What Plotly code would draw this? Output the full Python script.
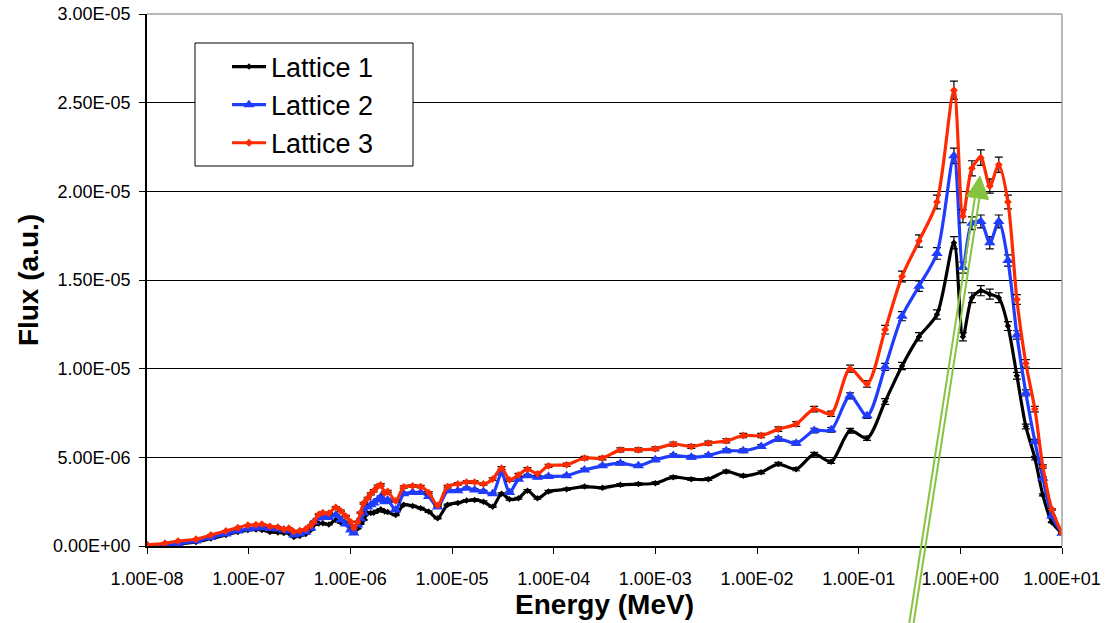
import plotly.graph_objects as go

# ---------------- data ----------------
energy_mev = [
    1.00e-8, 1.50e-8, 2.02e-8, 3.03e-8, 4.25e-8, 5.97e-8, 7.83e-8, 9.82e-8,
    1.18e-7, 1.35e-7, 1.62e-7, 1.94e-7, 2.22e-7, 2.48e-7, 2.78e-7, 3.18e-7,
    3.65e-7, 4.08e-7, 4.37e-7, 4.89e-7, 5.36e-7, 6.14e-7, 7.19e-7, 8.05e-7,
    9.01e-7, 1.01e-6, 1.08e-6, 1.18e-6, 1.26e-6, 1.35e-6, 1.48e-6, 1.59e-6,
    1.70e-6, 1.86e-6, 1.99e-6, 2.18e-6, 2.33e-6, 2.79e-6, 3.35e-6, 4.10e-6,
    4.92e-6, 5.89e-6, 7.22e-6, 9.05e-6, 1.14e-5, 1.39e-5, 1.67e-5, 2.04e-5,
    2.51e-5, 3.07e-5, 3.68e-5, 4.51e-5, 5.53e-5, 6.93e-5, 8.89e-5, 1.34e-4,
    2.01e-4, 3.02e-4, 4.53e-4, 6.81e-4, 1.00e-3, 1.50e-3, 2.26e-3, 3.32e-3,
    4.98e-3, 7.32e-3, 1.10e-2, 1.62e-2, 2.43e-2, 3.65e-2, 5.36e-2, 8.23e-2,
    0.121, 0.182, 0.267, 0.392, 0.589, 0.865, 1.06, 1.30,
    1.59, 1.95, 2.39, 2.94, 3.60, 4.41, 5.41, 6.48,
    7.94, 10.0,
]

# flux values in units of 1e-6 (a.u.)
lattice1 = [
    0.01, 0.06, 0.11, 0.23, 0.42, 0.62, 0.79, 0.90,
    0.93, 0.90, 0.79, 0.76, 0.73, 0.73, 0.51, 0.56,
    0.68, 0.90, 1.19, 1.27, 1.28, 1.21, 1.47, 1.32,
    1.27, 1.07, 0.99, 0.99, 1.24, 1.47, 1.84, 1.86,
    1.88, 1.98, 2.07, 1.94, 1.92, 1.75, 2.32, 2.26,
    2.13, 1.94, 1.56, 2.32, 2.43, 2.56, 2.60, 2.50,
    2.22, 2.94, 2.64, 2.69, 3.12, 2.69, 3.07, 3.20,
    3.35, 3.29, 3.45, 3.49, 3.54, 3.88, 3.77, 3.77,
    4.20, 3.96, 4.16, 4.62, 4.33, 5.18, 4.75, 6.50,
    6.08, 8.15, 10.15, 11.8, 13.05, 17.1, 11.8, 14.0,
    14.4, 14.2, 14.0, 12.4, 9.6, 6.74, 4.95, 2.88,
    1.34, 0.72,
]
lattice2 = [
    0.03, 0.08, 0.14, 0.28, 0.48, 0.68, 0.85, 0.96,
    1.02, 1.05, 0.99, 0.96, 0.90, 0.85, 0.62, 0.68,
    0.79, 1.02, 1.36, 1.58, 1.66, 1.61, 1.75, 1.47,
    1.24, 0.90, 0.73, 1.19, 1.53, 1.86, 2.20, 2.32,
    2.43, 2.60, 2.77, 2.49, 2.60, 2.03, 2.94, 3.01,
    3.01, 2.79, 2.20, 3.11, 3.11, 3.26, 3.16, 3.07,
    2.94, 4.11, 3.01, 3.77, 3.96, 3.88, 3.92, 3.96,
    4.29, 4.52, 4.67, 4.52, 4.86, 5.10, 5.01, 5.10,
    5.37, 5.37, 5.61, 6.03, 5.80, 6.51, 6.55, 8.47,
    7.34, 10.1, 12.96, 14.65, 16.5, 22.0, 15.7, 18.2,
    18.3, 17.1, 18.3, 16.1, 11.9, 8.63, 5.89, 3.82,
    1.69, 0.72,
]
lattice3 = [
    0.07, 0.15, 0.28, 0.38, 0.62, 0.85, 1.03, 1.17,
    1.20, 1.23, 1.11, 1.06, 0.94, 1.00, 0.81, 0.86,
    0.96, 1.16, 1.36, 1.78, 1.88, 1.85, 2.18, 1.98,
    1.69, 1.36, 1.02, 1.36, 1.88, 2.41, 2.69, 2.94,
    3.12, 3.36, 3.45, 2.99, 3.08, 2.54, 3.33, 3.39,
    3.35, 3.01, 2.29, 3.35, 3.50, 3.60, 3.60, 3.50,
    3.77, 4.39, 3.73, 4.01, 4.33, 4.07, 4.52, 4.58,
    4.96, 4.96, 5.42, 5.42, 5.48, 5.75, 5.61, 5.80,
    5.93, 6.23, 6.23, 6.59, 6.88, 7.72, 7.46, 10.0,
    9.14, 12.2, 15.2, 17.2, 19.4, 25.7, 18.6, 21.3,
    21.9, 20.3, 21.5, 19.4, 13.9, 10.3, 7.72, 4.48,
    2.07, 0.72,
]

series_names = ["Lattice 1", "Lattice 2", "Lattice 3"]
series_values = [lattice1, lattice2, lattice3]
series_colors = ["#000000", "#1f3cff", "#ff2a00"]
series_symbols = ["diamond", "triangle-up", "diamond"]
series_sizes = [5, 10, 6]
error_percent = 2.0

x_tick_vals = [1e-8, 1e-7, 1e-6, 1e-5, 1e-4, 1e-3, 1e-2, 1e-1, 1e0, 1e1]
x_tick_text = ["1.00E-08", "1.00E-07", "1.00E-06", "1.00E-05", "1.00E-04",
               "1.00E-03", "1.00E-02", "1.00E-01", "1.00E+00", "1.00E+01"]
y_tick_vals = [0, 5e-6, 1e-5, 1.5e-5, 2e-5, 2.5e-5, 3e-5]
y_tick_text = ["0.00E+00", "5.00E-06", "1.00E-05", "1.50E-05",
               "2.00E-05", "2.50E-05", "3.00E-05"]

# ---------------- layout geometry (pixels) ----------------
W, H = 1116, 623
ML, MR, MT, MB = 147, 54, 14, 77
PW, PH = W - ML - MR, H - MT - MB


def px(x):
    return (x - ML) / PW


def py(y):
    return (H - MB - y) / PH


FONT = "Arial, Liberation Sans, sans-serif"

fig = go.Figure()
for i, (name, vals) in enumerate(zip(series_names, series_values)):
    fig.add_trace(go.Scatter(
        x=energy_mev,
        y=[v * 1e-6 for v in vals],
        name=name,
        legendgroup=f"g{i}",
        mode="lines+markers",
        line=dict(color=series_colors[i], width=3.2, shape="spline", smoothing=0.8),
        marker=dict(symbol=series_symbols[i], size=series_sizes[i],
                    color=series_colors[i], line=dict(width=0)),
        error_y=dict(type="percent", value=error_percent, color="#000000",
                     thickness=1.2, width=4),
    ))

# legend box
shapes = [
    dict(type="rect", xref="paper", yref="paper",
         x0=px(195), x1=px(413), y0=py(166), y1=py(43),
         line=dict(color="#000000", width=1), fillcolor="#ffffff", layer="above"),
    # gray plot border top and right
    dict(type="line", xref="paper", yref="paper", x0=0, x1=1, y0=1, y1=1,
         line=dict(color="#a0a0a0", width=1.5), layer="above"),
    dict(type="line", xref="paper", yref="paper", x0=1, x1=1, y0=0, y1=1,
         line=dict(color="#a0a0a0", width=1.5), layer="above"),
]

# green hand-drawn arrow (overlay)
GREEN = "#86c440"
arrow_lines = [((909.3, 623), (975.0, 197)), ((913.6, 623), (979.6, 197))]
for (x0, y0), (x1, y1) in arrow_lines:
    shapes.append(dict(type="line", xref="paper", yref="paper",
                       x0=px(x0), y0=py(y0), x1=px(x1), y1=py(y1),
                       line=dict(color=GREEN, width=2), layer="above"))
head = [(966.7, 196.5), (988.5, 199.5), (980.0, 176.0)]
path = "M {} {} L {} {} L {} {} Z".format(*[v for p in head for v in (px(p[0]), py(p[1]))])
shapes.append(dict(type="path", xref="paper", yref="paper", path=path,
                   fillcolor=GREEN, line=dict(color=GREEN, width=1), layer="above"))

fig.update_layout(
    width=W, height=H,
    margin=dict(l=ML, r=MR, t=MT, b=MB, autoexpand=False),
    paper_bgcolor="#ffffff", plot_bgcolor="#ffffff",
    font=dict(family=FONT, color="#000000", size=18),
    showlegend=True,
    legend=dict(x=px(227), y=py(42.5), xanchor="left", yanchor="top",
                bgcolor="rgba(0,0,0,0)", borderwidth=0,
                font=dict(family=FONT, size=27, color="#000000"),
                itemwidth=34, tracegroupgap=6.5, traceorder="normal"),
    shapes=shapes,
    xaxis=dict(
        type="log", range=[-8, 1], tickmode="array",
        tickvals=x_tick_vals, ticktext=x_tick_text,
        ticks="outside", ticklen=6, tickcolor="#000000", tickwidth=1,
        showline=True, linecolor="#000000", linewidth=1.5,
        showgrid=False, zeroline=False, ticklabelstandoff=10,
        tickfont=dict(size=18),
        title=dict(text="Energy (MeV)", standoff=3,
                   font=dict(size=28, weight="bold")),
    ),
    yaxis=dict(
        range=[0, 3e-5], tickmode="array",
        tickvals=y_tick_vals, ticktext=y_tick_text,
        ticks="outside", ticklen=6, tickcolor="#000000", tickwidth=1,
        showline=True, linecolor="#000000", linewidth=1.5,
        showgrid=True, gridcolor="#000000", gridwidth=1,
        zeroline=False, ticklabelstandoff=5,
        tickfont=dict(size=18),
        title=dict(text="Flux (a.u.)", standoff=6,
                   font=dict(size=28, weight="bold")),
    ),
)

fig.write_html("out.html")
